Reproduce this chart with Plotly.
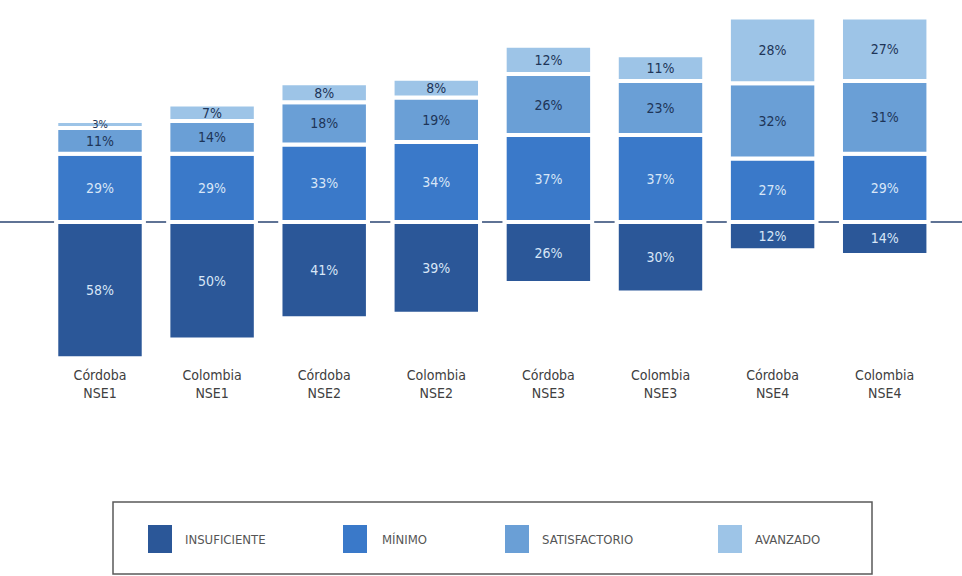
import plotly.graph_objects as go

# Categories (region + socioeconomic level)
categories = ["Córdoba<br>NSE1", "Colombia<br>NSE1", "Córdoba<br>NSE2", "Colombia<br>NSE2",
              "Córdoba<br>NSE3", "Colombia<br>NSE3", "Córdoba<br>NSE4", "Colombia<br>NSE4"]

# Percentage of students per performance level
insuficiente = [58, 50, 41, 39, 26, 30, 12, 14]
minimo = [29, 29, 33, 34, 37, 37, 27, 29]
satisfactorio = [11, 14, 18, 19, 26, 23, 32, 31]
avanzado = [3, 7, 8, 8, 12, 11, 28, 27]

level_names = ["INSUFICIENTE", "MÍNIMO", "SATISFACTORIO", "AVANZADO"]
level_colors = ["#2B5798", "#3A79C9", "#6A9FD6", "#9DC4E7"]
label_colors = ["#D8E6F7", "#D8E6F7", "#1E3558", "#1E3558"]

W, H = 962, 576
PLOT_BOTTOM = 365   # pixel row of the plot-area bottom
ZERO_Y = 222        # pixel row of the zero baseline
SCALE = 2.35        # pixels per percentage point

FONT = "Liberation Sans Narrow, DejaVu Sans Condensed, Arial Narrow, sans-serif"

fig = go.Figure()

series = [insuficiente, minimo, satisfactorio, avanzado]
for k, (name, vals) in enumerate(zip(level_names, series)):
    # insufficient level is drawn below the baseline
    yvals = [-v for v in vals] if k == 0 else vals
    fig.add_trace(go.Bar(
        x=list(range(len(categories))),
        y=yvals,
        name=name,
        width=0.78,
        marker=dict(color=level_colors[k], line=dict(color="white", width=4)),
        text=[f"{v}%" for v in vals],
        textposition="inside",
        insidetextanchor="middle",
        textangle=0,
        constraintext="none",
        textfont=dict(family=FONT, size=[11 if v < 5 else 14 for v in vals],
                      color=label_colors[k]),
        showlegend=False,
        hoverinfo="skip",
    ))

# Baseline across the full width
fig.add_shape(type="line", xref="paper", yref="y", x0=0, x1=1, y0=0, y1=0,
              line=dict(color="#5F7395", width=2), layer="below")

# Legend box drawn at the bottom
def px(x):
    return x / W

def py(y):
    return (PLOT_BOTTOM - y) / PLOT_BOTTOM

fig.add_shape(type="rect", xref="paper", yref="paper",
              x0=px(113), x1=px(872), y0=py(574), y1=py(502),
              line=dict(color="#5A5A5A", width=1.5), fillcolor="rgba(0,0,0,0)")

sq_x = [148, 343, 505, 718]
txt_x = [183, 380, 540, 753]
for k, name in enumerate(level_names):
    fig.add_shape(type="rect", xref="paper", yref="paper",
                  x0=px(sq_x[k]), x1=px(sq_x[k] + 24), y0=py(553), y1=py(525),
                  line=dict(width=0), fillcolor=level_colors[k])
    fig.add_annotation(xref="paper", yref="paper", x=px(txt_x[k]), y=py(539),
                       text=name, showarrow=False, xanchor="left", yanchor="middle",
                       font=dict(family=FONT, size=13, color="#555555"))

n = len(categories)
x_lo = -100 / 112.1
x_hi = (W - 100) / 112.1
y_hi = ZERO_Y / SCALE
y_lo = -(PLOT_BOTTOM - ZERO_Y) / SCALE

fig.update_layout(
    width=W, height=H,
    margin=dict(l=0, r=0, t=0, b=H - PLOT_BOTTOM),
    plot_bgcolor="white", paper_bgcolor="white",
    barmode="relative",
    xaxis=dict(range=[x_lo, x_hi], tickmode="array", tickvals=list(range(n)),
               ticktext=categories, showgrid=False, zeroline=False, showline=False,
               ticks="", tickfont=dict(family=FONT, size=14, color="#404040")),
    yaxis=dict(range=[y_lo, y_hi], visible=False, showgrid=False, zeroline=False),
    showlegend=False,
)

fig.write_html("out.html")
